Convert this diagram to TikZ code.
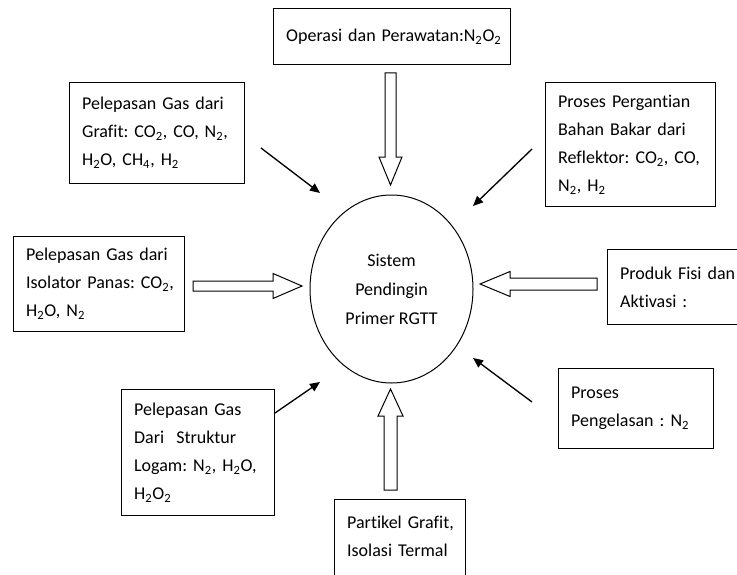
\documentclass[tikz,border=0pt]{standalone}
\usepackage{fontspec}
\setmainfont{Carlito}[Ligatures=NoCommon]
\frenchspacing
\usetikzlibrary{arrows.meta,shapes.geometric}

\begin{document}
\begin{tikzpicture}[x=0.75pt,y=-0.75pt,>={Triangle[length=7.5pt,width=6.5pt]},
                    line width=0.75pt,
                    gas box/.style={rectangle,draw,anchor=north west,align=left,inner sep=0pt,
                      font=\fontsize{13.5}{21}\selectfont,execute at begin node={\leftskip=9.5pt\relax}},
                    core node/.style={ellipse,draw,align=center,inner sep=0pt,
                      minimum width=122.25pt,minimum height=141pt,font=\fontsize{13.5}{21.75}\selectfont},
                    block arrow/.style={draw,fill=white,line width=0.75pt}]

  \useasboundingbox (0,0) rectangle (737,574);
  \clip (0,0) rectangle (737,574);

  % centre
  \node[core node] (core) at (391.5,289) {Sistem\\Pendingin\\Primer RGTT};

  % sources
  \node[gas box,text width=177.75pt,minimum height=42pt] (ops) at (273,8)
    {Operasi dan Perawatan:N\textsubscript{2}O\textsubscript{2}};
  \node[gas box,text width=131.25pt,minimum height=75.75pt] (grafit) at (69,82)
    {Pelepasan Gas dari\\Grafit: CO\textsubscript{2}, CO, N\textsubscript{2},\\H\textsubscript{2}O, CH\textsubscript{4}, H\textsubscript{2}};
  \node[gas box,text width=127.5pt,minimum height=93pt] (reflektor) at (545,82)
    {Proses Pergantian\\Bahan Bakar dari\\Reflektor: CO\textsubscript{2}, CO,\\N\textsubscript{2}, H\textsubscript{2}};
  \node[gas box,text width=128.25pt,minimum height=71.25pt] (isolator) at (13,236)
    {Pelepasan Gas dari\\Isolator Panas: CO\textsubscript{2},\\H\textsubscript{2}O, N\textsubscript{2}};
  \node[gas box,text width=103.5pt,minimum height=56.25pt] (fisi) at (607,249)
    {Produk Fisi dan\\Aktivasi :};
  \node[gas box,text width=114.75pt,minimum height=94.5pt] (logam) at (121,389)
    {Pelepasan Gas\\Dari\ \ Struktur\\Logam: N\textsubscript{2}, H\textsubscript{2}O,\\H\textsubscript{2}O\textsubscript{2}};
  \node[gas box,text width=98.25pt,minimum height=75.75pt] (partikel) at (334,499)
    {Partikel Grafit,\\Isolasi Termal\\\mbox{}};
  \node[gas box,text width=116.25pt,minimum height=60pt] (las) at (558,368)
    {Proses\\Pengelasan : N\textsubscript{2}};

  % hollow arrows
  \draw[block arrow] (385,73) -- (396,73) -- (396,157) -- (402,157) -- (390.5,185)
    -- (379,157) -- (385,157) -- cycle;
  \draw[block arrow] (193,281) -- (273,281) -- (273,273.5) -- (302,286) -- (273,298.5)
    -- (273,291) -- (193,291) -- cycle;
  \draw[block arrow] (597,278) -- (510,278) -- (510,271.5) -- (480,284) -- (510,296.5)
    -- (510,290) -- (597,290) -- cycle;
  \draw[block arrow] (384,490) -- (397,490) -- (397,416) -- (403,416) -- (390.5,389)
    -- (378,416) -- (384,416) -- cycle;

  % thin arrows
  \coordinate (grafit-out) at (261,148);
  \coordinate (core-nw) at (320,193);
  \coordinate (reflektor-out) at (532,149);
  \coordinate (core-ne) at (473,206);
  \coordinate (logam-out) at (275,413);
  \coordinate (core-sw) at (320,382);
  \coordinate (las-out) at (532,402);
  \coordinate (core-se) at (473,358);

  \path[->,line width=1pt]
    (grafit-out) edge (core-nw)
    (reflektor-out) edge (core-ne)
    (logam-out) edge (core-sw)
    (las-out) edge (core-se);
\end{tikzpicture}
\end{document}
